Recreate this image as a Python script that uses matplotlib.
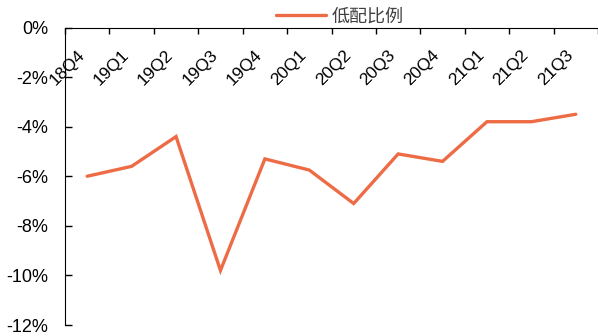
import matplotlib.pyplot as plt
import numpy as np
from matplotlib.ticker import FuncFormatter

plt.rcParams['font.family'] = ['Liberation Sans', 'Noto Sans CJK SC', 'DejaVu Sans']

quarters = ["18Q4", "19Q1", "19Q2", "19Q3", "19Q4", "20Q1",
            "20Q2", "20Q3", "20Q4", "21Q1", "21Q2", "21Q3"]
underweight = [-6.0, -5.6, -4.4, -9.8, -5.3, -5.75,
               -7.1, -5.1, -5.4, -3.8, -3.8, -3.5]
series_name = "低配比例"

fig = plt.figure(figsize=(5.98, 3.36), dpi=100)
ax = fig.add_axes([65 / 598, 1 - 325 / 336, 533 / 598, (325 - 27.5) / 336])

x = np.arange(len(quarters))
ax.plot(x, underweight, color='#EE6C45', linewidth=2.4, label=series_name,
        solid_capstyle='round', solid_joinstyle='miter')

ax.set_xlim(-0.5, len(quarters) - 0.5)
ax.set_ylim(-12, 0)
ax.set_yticks(np.arange(-12, 1, 2))
ax.yaxis.set_major_formatter(FuncFormatter(lambda v, _: f"{v:.0f}%"))

# category axis sits on the 0% line, labels hang below it
ax.spines['bottom'].set_position(('data', 0))
ax.spines['top'].set_visible(False)
ax.spines['right'].set_visible(False)
ax.set_xticks(np.arange(-0.5, len(quarters)), labels=[])
ax.set_xticks(x, labels=quarters, minor=True)
ax.tick_params(axis='x', which='major', direction='out', length=4, width=1)
ax.tick_params(axis='x', which='minor', length=0, pad=14, labelsize=12.5)
for lbl in ax.get_xticklabels(minor=True):
    lbl.set_rotation(45)
    lbl.set_ha('right')
    lbl.set_va('top')
ax.tick_params(axis='y', direction='in', length=5, width=1, pad=12, labelsize=13)

ax.legend(loc='center', bbox_to_anchor=(0.515, 1.035), frameon=False,
          handlelength=2.8, handletextpad=0.3, fontsize=13, labelcolor='#404040')

fig.savefig("out.png", dpi=100)
